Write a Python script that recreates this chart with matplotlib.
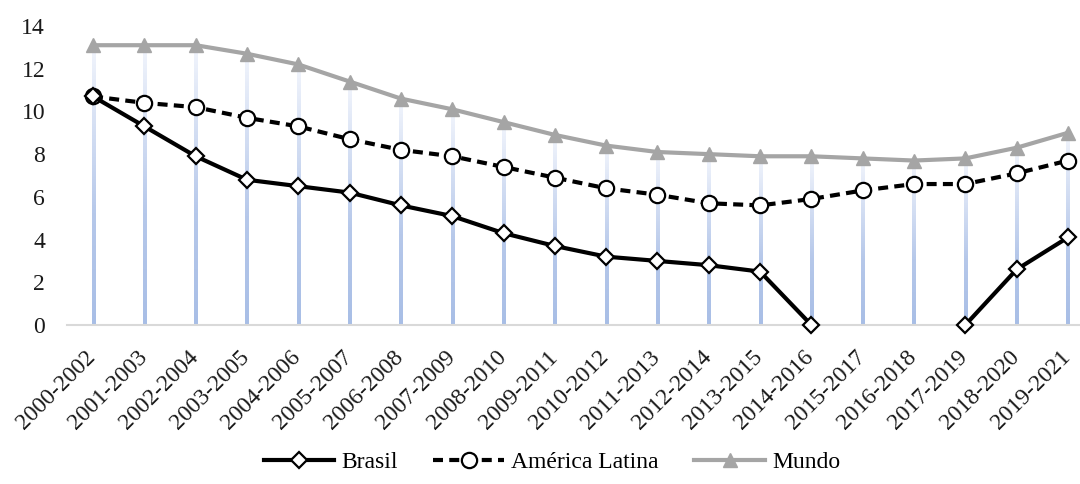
import numpy as np
import matplotlib.pyplot as plt
from matplotlib.colors import LinearSegmentedColormap
from matplotlib.transforms import ScaledTranslation

plt.rcParams['font.family'] = ['Liberation Serif', 'DejaVu Serif']

periodos = ["2000-2002", "2001-2003", "2002-2004", "2003-2005", "2004-2006",
            "2005-2007", "2006-2008", "2007-2009", "2008-2010", "2009-2011",
            "2010-2012", "2011-2013", "2012-2014", "2013-2015", "2014-2016",
            "2015-2017", "2016-2018", "2017-2019", "2018-2020", "2019-2021"]

brasil = [10.7, 9.3, 7.9, 6.8, 6.5, 6.2, 5.6, 5.1, 4.3, 3.7,
          3.2, 3.0, 2.8, 2.5, 0.0, np.nan, np.nan, 0.0, 2.6, 4.1]
america_latina = [10.7, 10.4, 10.2, 9.7, 9.3, 8.7, 8.2, 7.9, 7.4, 6.9,
                  6.4, 6.1, 5.7, 5.6, 5.9, 6.3, 6.6, 6.6, 7.1, 7.7]
mundo = [13.1, 13.1, 13.1, 12.7, 12.2, 11.4, 10.6, 10.1, 9.5, 8.9,
         8.4, 8.1, 8.0, 7.9, 7.9, 7.8, 7.7, 7.8, 8.3, 9.0]

x = np.arange(len(periodos))

fig = plt.figure(figsize=(10.8, 4.84), dpi=100)
ax = fig.add_axes([0.0624, 0.3285, 0.9502, 0.6178])

# linhas de projeção com degradê (claro em cima, azul embaixo)
cmap = LinearSegmentedColormap.from_list(
    "drop", [(0, "#F2F5FC"), (0.6, "#B6C8EA"), (1, "#A8BEE6")])
grad = np.linspace(0, 1, 256).reshape(-1, 1)
meia = 0.03
for xi, top in zip(x, mundo):
    ax.imshow(grad, cmap=cmap, aspect="auto", origin="upper",
              extent=[xi - meia, xi + meia, 0, top], zorder=1,
              interpolation="bilinear")

ax.plot(x, mundo, color="#A5A5A5", lw=3, marker="^", ms=10,
        mfc="#A5A5A5", mec="#A5A5A5", label="Mundo", zorder=3, clip_on=False)
ax.plot(x, america_latina, color="black", lw=3, ls=(0, (2.4, 1.5)),
        marker="o", ms=11, mfc="white", mec="black", mew=1.6,
        label="América Latina", zorder=4, clip_on=False)
ax.plot(x, brasil, color="black", lw=3, marker="D", ms=8,
        mfc="white", mec="black", mew=1.6, label="Brasil",
        zorder=5, clip_on=False)

ax.set_xlim(-0.5, len(periodos) - 0.5)
ax.set_ylim(0, 14)
ax.set_yticks(range(0, 15, 2))
ax.set_xticks(x)
ax.set_xticklabels(periodos, rotation=45, ha="right", va="top",
                   rotation_mode="anchor")
ax.tick_params(axis="both", length=0, labelsize=17, colors="#1a1a1a")
ax.tick_params(axis="x", pad=12)
ax.tick_params(axis="y", pad=16)

# desloca os rótulos girados para a esquerda, alinhando o fim com o tick
desloc = ScaledTranslation(-8 / 100, -5 / 100, fig.dpi_scale_trans)
for lab in ax.get_xticklabels():
    lab.set_transform(lab.get_transform() + desloc)

for s in ["top", "right", "left"]:
    ax.spines[s].set_visible(False)
ax.spines["bottom"].set_color("#D9D9D9")
ax.spines["bottom"].set_linewidth(1.5)

handles, labels = ax.get_legend_handles_labels()
order = [2, 1, 0]
fig.legend([handles[i] for i in order], [labels[i] for i in order],
           loc="center", bbox_to_anchor=(0.511, 0.045), ncol=3, frameon=False,
           fontsize=17, handlelength=3.0, handletextpad=0.3,
           columnspacing=1.5)

fig.savefig("out.png", dpi=100)
